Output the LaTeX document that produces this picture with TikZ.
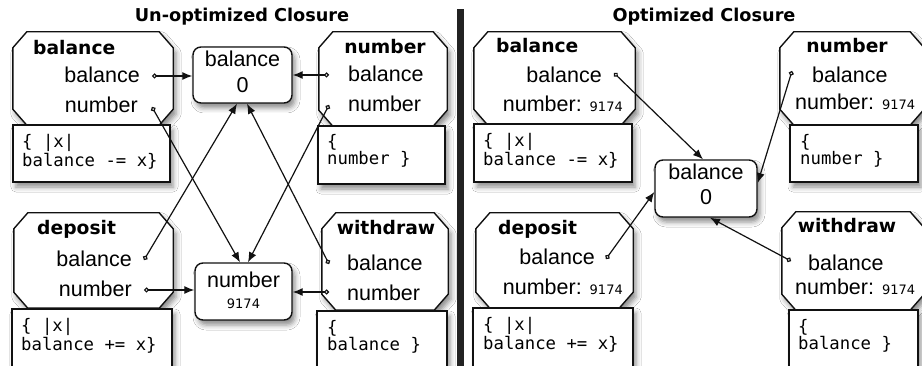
\documentclass[tikz,border=0pt]{standalone}
\usepackage{fontspec}
\setmainfont{Liberation Sans}
\newfontfamily\dvs{DejaVu Sans}
\setmonofont{DejaVu Sans Mono}
\usetikzlibrary{arrows.meta,shadows.blur,calc}
\newcommand\regf{\fontsize{21.5}{24}\selectfont}
\newcommand\ttlf{\dvs\bfseries\fontsize{18.7}{20}\selectfont}
\newcommand\hdf{\dvs\bfseries\fontsize{17.7}{20}\selectfont}
\newcommand\smf{\dvs\fontsize{13}{14}\selectfont}
\newcommand\codef{\ttfamily\fontsize{17.3}{16.5}\selectfont}
\newcommand\codetxt[1]{\parbox[t]{150pt}{\raggedright\codef #1}}
\newcommand\octo[1]{%
  \filldraw[octline] ($(#1.north west)+(14,0)$) -- ($(#1.north east)+(-14,0)$)
   -- ($(#1.north east)+(0,16)$) -- ($(#1.south east)+(0,-16)$)
   -- ($(#1.south east)+(-14,0)$) -- ($(#1.south west)+(14,0)$)
   -- ($(#1.south west)+(0,-16)$) -- ($(#1.north west)+(0,16)$) -- cycle;}
\definecolor{ink}{HTML}{111111}
\definecolor{divc}{HTML}{222222}
\begin{document}
\begin{tikzpicture}[x=1pt,y=-1pt,
  shad/.style={blur shadow={shadow xshift=3pt, shadow yshift=-5pt, shadow blur radius=5pt, shadow opacity=45}},
  oct/.style={rectangle, draw=none, inner sep=0pt},
  octline/.style={draw=ink, line width=1.4pt, fill=white, shad},
  codebox/.style={rectangle, draw=ink, line width=1.4pt, fill=white, inner sep=0pt, shad},
  valbox/.style={rectangle, rounded corners=8pt, draw=ink, line width=1.4pt, fill=white, inner sep=0pt, shad},
  lbl/.style={inner sep=0pt, font=\regf},
  ttl/.style={inner sep=0pt, font=\ttlf},
  num/.style={inner sep=0pt, font=\smf},
  code/.style={inner sep=0pt, anchor=base west},
  hd/.style={inner sep=0pt, font=\hdf},
  conn/.style={line width=1.2pt, draw=ink, {Circle[open, length=5pt, width=5pt, line width=1.2pt]}-{Latex[length=10pt, width=8pt]}}
]
\path[use as bounding box] (0,0) rectangle (922,366);
\clip (0,0) rectangle (922,366);
\fill[white] (0,0) rectangle (922,366);

% headings and divider
\node[hd] (h1) at (242,17) {Un-optimized Closure};
\node[hd] (h2) at (704,17) {Optimized Closure};
\fill[divc] (457,9) rectangle (464,366);

% ===== left panel =====
\node[oct, minimum width=160pt, minimum height=93pt] (balOct) at (93,78.5) {};
\octo{balOct}
\node[codebox, minimum width=157pt, minimum height=57pt] (balCode) at (91.5,153.5) {};
\node[oct, minimum width=128pt, minimum height=94pt] (numOct) at (383,79) {};
\octo{numOct}
\node[codebox, minimum width=127pt, minimum height=58pt] (numCode) at (381.5,155) {};
\node[oct, minimum width=159pt, minimum height=95pt] (depOct) at (93.5,260.5) {};
\octo{depOct}
\node[codebox, minimum width=160pt, minimum height=66pt] (depCode) at (92,342) {};
\node[oct, minimum width=126pt, minimum height=97pt] (wdrOct) at (385,261.5) {};
\octo{wdrOct}
\node[codebox, minimum width=130pt, minimum height=64pt] (wdrCode) at (382,343) {};
\node[valbox, minimum width=99pt, minimum height=56pt] (balVal) at (242.5,75) {};
\node[valbox, minimum width=97pt, minimum height=57pt] (numVal) at (243.5,291.5) {};

\node[ttl, anchor=base west] (t1) at (33,55) {balance};
\node[lbl, anchor=base east] (l1a) at (140,83) {balance};
\node[lbl, anchor=base east] (l1b) at (138,113) {number};
\node[code] (c1) at (22,148) {\codetxt{\{ |x|\\balance -= x\}}};

\node[ttl, anchor=base] (t2) at (385,54) {number};
\node[lbl, anchor=base west] (l2a) at (348,82) {balance};
\node[lbl, anchor=base west] (l2b) at (348,112) {number};
\node[code] (c2) at (327,148) {\codetxt{\{\\number \}}};

\node[ttl, anchor=base west] (t3) at (37,235) {deposit};
\node[lbl, anchor=base east] (l3a) at (132,267) {balance};
\node[lbl, anchor=base east] (l3b) at (132,297) {number};
\node[code] (c3) at (21,332) {\codetxt{\{ |x|\\balance += x\}}};

\node[ttl, anchor=base] (t4) at (386,235) {withdraw};
\node[lbl, anchor=base west] (l4a) at (347,271) {balance};
\node[lbl, anchor=base west] (l4b) at (347,301) {number};
\node[code] (c4) at (327,334) {\codetxt{\{\\balance \}}};

\node[lbl, anchor=base] (v1a) at (242.5,67) {balance};
\node[lbl, anchor=base] (v1b) at (242.5,93) {0};
\node[lbl, anchor=base] (v2a) at (243.5,288) {number};
\node[num, anchor=base] (v2b) at (243.5,309) {9174};

\coordinate (bbD) at (152,76);
\coordinate (bnD) at (152,107);
\coordinate (nbD) at (329,75);
\coordinate (nnD) at (329,105);
\coordinate (dbD) at (144,260);
\coordinate (dnD) at (144,290);
\coordinate (wbD) at (329,264);
\coordinate (wnD) at (329,292);

\draw[conn] (bbD) -- (balVal.west |- bbD);
\draw[conn] (nbD) -- (balVal.east |- nbD);
\draw[conn] (bnD) -- ($(numVal.north)+(-3.5,0)$);
\draw[conn] (nnD) -- ($(numVal.north)+(4.5,0)$);
\draw[conn] (dbD) -- ($(balVal.south)+(-5.5,0)$);
\draw[conn] (wbD) -- ($(balVal.south)+(4.5,0)$);
\draw[conn] (dnD) -- (numVal.west |- dnD);
\draw[conn] (wnD) -- (numVal.east |- wnD);

% ===== right panel =====
\node[oct, minimum width=161pt, minimum height=93pt] (rbalOct) at (554.5,78.5) {};
\octo{rbalOct}
\node[codebox, minimum width=158pt, minimum height=58pt] (rbalCode) at (553,153) {};
\node[oct, minimum width=144pt, minimum height=93pt] (rnumOct) at (852,78.5) {};
\octo{rnumOct}
\node[codebox, minimum width=128pt, minimum height=57pt] (rnumCode) at (854,153.5) {};
\node[oct, minimum width=157pt, minimum height=95pt] (rdepOct) at (554.5,260.5) {};
\octo{rdepOct}
\node[codebox, minimum width=160pt, minimum height=67pt] (rdepCode) at (553,341.5) {};
\node[oct, minimum width=142pt, minimum height=98pt] (rwdrOct) at (853,261) {};
\octo{rwdrOct}
\node[codebox, minimum width=129pt, minimum height=65pt] (rwdrCode) at (853.5,342.5) {};
\node[valbox, minimum width=102pt, minimum height=57pt] (rbalVal) at (706,188.5) {};

\node[ttl, anchor=base west] (rt1) at (496,53) {balance};
\node[lbl, anchor=base east] (rl1a) at (602,83) {balance};
\node[lbl, anchor=base east] (rl1b) at (623,111.5) {number: {\smf 9174}};
\node[code] (rc1) at (483,147) {\codetxt{\{ |x|\\balance -= x\}}};

\node[ttl, anchor=base] (rt2) at (847,53) {number};
\node[lbl, anchor=base west] (rl2a) at (812,83) {balance};
\node[lbl, anchor=base west] (rl2b) at (795,110) {number: {\smf 9174}};
\node[code] (rc2) at (800,148) {\codetxt{\{\\number \}}};

\node[ttl, anchor=base west] (rt3) at (498,235) {deposit};
\node[lbl, anchor=base east] (rl3a) at (595,265) {balance};
\node[lbl, anchor=base east] (rl3b) at (623,295) {number: {\smf 9174}};
\node[code] (rc3) at (483,331) {\codetxt{\{ |x|\\balance += x\}}};

\node[ttl, anchor=base] (rt4) at (847,233) {withdraw};
\node[lbl, anchor=base west] (rl4a) at (808,271) {balance};
\node[lbl, anchor=base west] (rl4b) at (795,295) {number: {\smf 9174}};
\node[code] (rc4) at (798,333) {\codetxt{\{\\balance \}}};

\node[lbl, anchor=base] (rv1a) at (706,180) {balance};
\node[lbl, anchor=base] (rv1b) at (706,205) {0};

\coordinate (rbD) at (614,73);
\coordinate (rnD) at (792,71);
\coordinate (rdD) at (606,259);
\coordinate (rwD) at (791,261);

\draw[conn] (rbD) -- ($(rbalVal.north)+(-3,0)$);
\draw[conn] (rnD) -- ($(rbalVal.east)+(0,-5.5)$);
\draw[conn] (rdD) -- ($(rbalVal.west)+(0,3.5)$);
\draw[conn] (rwD) -- ($(rbalVal.south)+(4,0)$);
\end{tikzpicture}
\end{document}
